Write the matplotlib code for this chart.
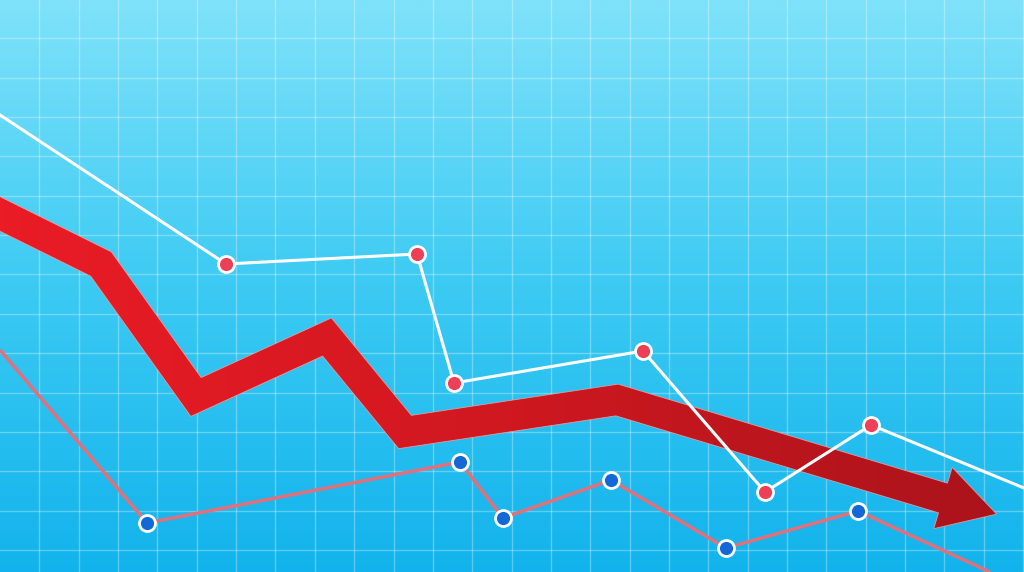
import numpy as np
import matplotlib
matplotlib.use("Agg")
import matplotlib.pyplot as plt
from matplotlib.colors import LinearSegmentedColormap
from matplotlib.patches import Polygon

# ---- data (x in px units, y values measured upward from bottom) ----
H = 572
white_x = [0, 226, 417, 454, 643, 765, 871, 1024]
white_y = [457, 308, 318, 189, 221, 80, 147, 84]

coral_x = [0, 147, 460, 503, 611, 726, 858, 990]
coral_y = [222, 49, 110, 54, 92, 24, 61, 0]

arrow_x = [-10, 101, 196, 327, 405, 617, 943]
arrow_y = [363, 308, 175, 235, 140, 172, 74]

grid_step = 39.35

fig = plt.figure(figsize=(10.24, 5.72), dpi=100)
ax = fig.add_axes([0, 0, 1, 1])
ax.set_xlim(0, 1024)
ax.set_ylim(0, H)
for s in ax.spines.values():
    s.set_visible(False)

# background gradient
bg = LinearSegmentedColormap.from_list("bg", ["#12b3ec", "#3ccaf3", "#7fe2fa"])
grad = np.linspace(0, 1, 256).reshape(-1, 1)
ax.imshow(grad, extent=[0, 1024, 0, H], origin="lower", cmap=bg,
          aspect="auto", zorder=0)

# grid
ax.set_xticks(np.arange(grid_step, 1024, grid_step))
ax.set_yticks(H - (np.arange(grid_step, H, grid_step) - 1))
ax.tick_params(length=0, labelbottom=False, labelleft=False)
ax.grid(True, color="white", alpha=0.3, linewidth=1.0, zorder=1)
ax.set_axisbelow(False)

# thick arrow polygon
P = np.column_stack([arrow_x, arrow_y]).astype(float)
w = 15.5
seg = np.diff(P, axis=0)
d = seg / np.linalg.norm(seg, axis=1)[:, None]
n = np.column_stack([-d[:, 1], d[:, 0]])
left, right = [], []
for i in range(len(P)):
    if i == 0:
        m = n[0]; scale = w
    elif i == len(P) - 1:
        m = n[-1]; scale = w
    else:
        m = n[i - 1] + n[i]
        m = m / np.linalg.norm(m)
        scale = w / np.dot(m, n[i])
    left.append(P[i] + m * scale)
    right.append(P[i] - m * scale)
dl = d[-1]; nl = n[-1]
head_w, head_len = 32, 56
tip = P[-1] + dl * head_len
poly = left + [P[-1] + nl * head_w, tip, P[-1] - nl * head_w] + right[::-1]
poly = np.array(poly)
patch = Polygon(poly, closed=True, facecolor="none", edgecolor="#f3a6a8",
                linewidth=0.6, alpha=0.8, zorder=3)
ax.add_patch(patch)
acmap = LinearSegmentedColormap.from_list("ar", ["#ea1c26", "#cf1820", "#a9131b"])
hgrad = np.linspace(0, 1, 256).reshape(1, -1)
im = ax.imshow(hgrad, extent=[0, 1024, 0, H], origin="lower", cmap=acmap,
               aspect="auto", zorder=2.9)
im.set_clip_path(patch)

# coral line with blue markers
ax.plot(coral_x, coral_y, color="#e0707c", linewidth=2.5, zorder=4,
        solid_capstyle="butt")
ax.plot(coral_x[1:-1], coral_y[1:-1], linestyle="none", marker="o",
        markersize=11.5, markerfacecolor="#1467d6", markeredgecolor="white",
        markeredgewidth=2.0, zorder=5)

# white line with red markers
ax.plot(white_x, white_y, color="white", linewidth=2.2, zorder=6)
ax.plot(white_x[1:-1], white_y[1:-1], linestyle="none", marker="o",
        markersize=11.5, markerfacecolor="#ee3f56", markeredgecolor="white",
        markeredgewidth=2.0, zorder=7)

ax.set_xlim(0, 1024)
ax.set_ylim(0, H)
fig.savefig("out.png", dpi=100)
